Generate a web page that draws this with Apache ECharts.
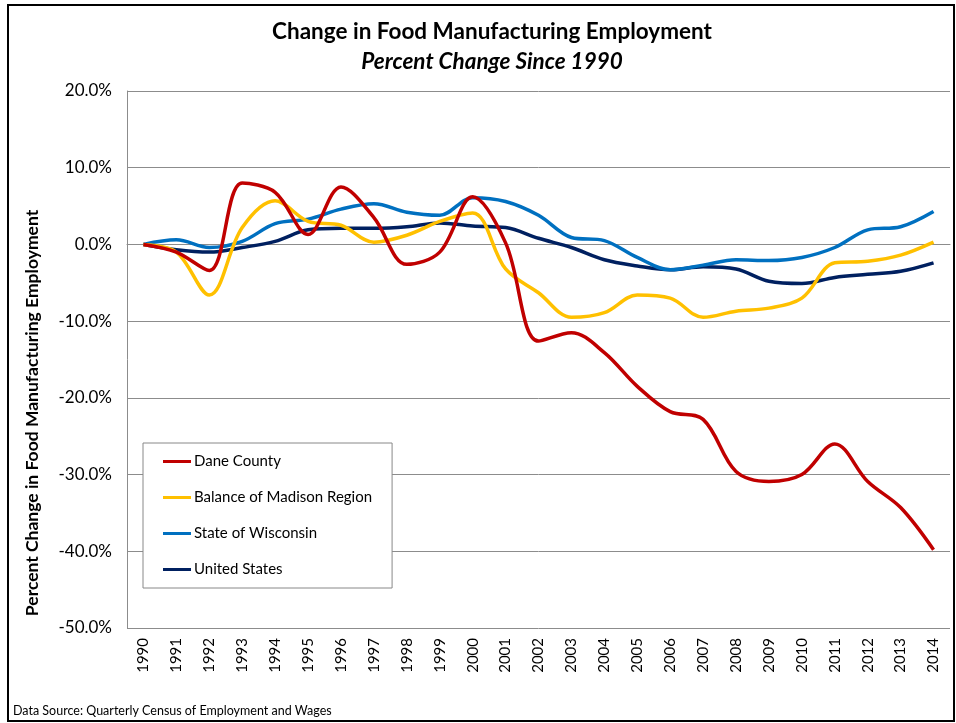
<!DOCTYPE html>
<html>
<head>
<meta charset="utf-8">
<script src="https://cdn.jsdelivr.net/npm/echarts@6/dist/echarts.min.js"></script>
<style>html,body{margin:0;padding:0;background:#fff}#c{width:956px;height:723px}</style>
</head>
<body>
<div id="c"></div>
<script>
var years = ['1990','1991','1992','1993','1994','1995','1996','1997','1998','1999','2000','2001','2002','2003','2004','2005','2006','2007','2008','2009','2010','2011','2012','2013','2014'];
var daneCounty = [0, -1.0, -3.4, 8.0, 6.8, 1.3, 7.5, 3.5, -2.6, -1.0, 6.2, 0.2, -12.6, -11.5, -14.1, -18.5, -21.8, -22.8, -29.6, -30.9, -30.0, -26.0, -30.9, -34.3, -39.8];
var balanceMadison = [0, -1.0, -6.6, 2.2, 5.7, 3.0, 2.5, 0.3, 1.2, 3.0, 4.1, -3.2, -6.3, -9.5, -8.9, -6.6, -7.0, -9.5, -8.7, -8.3, -7.0, -2.4, -2.2, -1.4, 0.3];
var stateWisconsin = [0, 0.6, -0.4, 0.4, 2.7, 3.3, 4.6, 5.3, 4.2, 3.8, 6.1, 5.6, 3.8, 0.9, 0.5, -1.7, -3.3, -2.7, -2.0, -2.1, -1.7, -0.4, 1.9, 2.3, 4.3];
var unitedStates = [0, -0.7, -1.0, -0.4, 0.4, 1.9, 2.1, 2.1, 2.3, 2.8, 2.4, 2.2, 0.8, -0.4, -2.0, -2.8, -3.3, -2.9, -3.2, -4.8, -5.1, -4.3, -3.9, -3.5, -2.4];
var seriesNames = ['Dane County', 'Balance of Madison Region', 'State of Wisconsin', 'United States'];
var seriesColors = ['#C00000', '#FFC000', '#0070C0', '#002060'];

var chart = echarts.init(document.getElementById('c'), null, {renderer: 'canvas'});
var allData = [daneCounty, balanceMadison, stateWisconsin, unitedStates];
var FONT = 'Lato, "Open Sans", sans-serif';

chart.setOption({
  animation: false,
  backgroundColor: '#fff',
  title: [{
    text: 'Change in Food Manufacturing Employment',
    left: 487, top: 15, textAlign: 'center',
    textStyle: {fontFamily: FONT, fontSize: 22.5, fontWeight: 'bold', color: '#000'}
  }, {
    text: 'Percent Change Since 1990',
    left: 487, top: 45, textAlign: 'center',
    textStyle: {fontFamily: FONT, fontSize: 22.5, fontWeight: 'bold', fontStyle: 'italic', color: '#000'}
  }],
  grid: {left: 127, right: 6, top: 91, bottom: 95, containLabel: false},
  legend: {
    orient: 'vertical',
    left: 143, top: 443,
    padding: [11, 20, 11, 20],
    itemGap: 21,
    itemWidth: 28, itemHeight: 3,
    icon: 'rect',
    borderColor: '#888', borderWidth: 1,
    backgroundColor: '#fff',
    textStyle: {fontFamily: FONT, fontSize: 15, color: '#000', padding: [0,0,0,-2]},
    data: seriesNames
  },
  xAxis: {
    type: 'category',
    data: years,
    boundaryGap: true,
    axisLine: {lineStyle: {color: '#8c8c8c', width: 1}},
    axisTick: {show: false},
    axisLabel: {rotate: 90, fontFamily: FONT, fontSize: 15, color: '#000', margin: 10}
  },
  yAxis: {
    type: 'value',
    min: -50, max: 20, interval: 10,
    axisLine: {show: true, lineStyle: {color: '#8c8c8c', width: 1}},
    axisTick: {show: false},
    splitLine: {lineStyle: {color: '#8c8c8c', width: 1}},
    axisLabel: {fontFamily: FONT, fontSize: 17, color: '#000', margin: 15,
      formatter: function (v) { return v.toFixed(1) + '%'; }}
  },
  series: seriesNames.map(function (n, i) {
    return {
      name: n, type: 'line', data: allData[i], smooth: 0.35,
      showSymbol: false, symbol: 'none',
      lineStyle: {color: seriesColors[i], width: 3.5},
      itemStyle: {color: seriesColors[i]},
      z: 10 - i
    };
  }),
  graphic: [{
    type: 'rect', silent: true,
    shape: {x: 8, y: 5, width: 946, height: 716},
    style: {fill: 'none', stroke: '#000', lineWidth: 2}
  }, {
    type: 'text', x: 32, y: 413, rotation: Math.PI / 2,
    style: {text: 'Percent Change in Food Manufacturing Employment', fontFamily: FONT, fontSize: 17.5, fontWeight: 'bold',
      fill: '#000', align: 'center', verticalAlign: 'middle'}
  }, {
    type: 'text', left: 13, top: 704,
    style: {text: 'Data Source: Quarterly Census of Employment and Wages', fontFamily: FONT, fontSize: 12.5, fill: '#000'}
  }]
});
</script>
</body>
</html>
